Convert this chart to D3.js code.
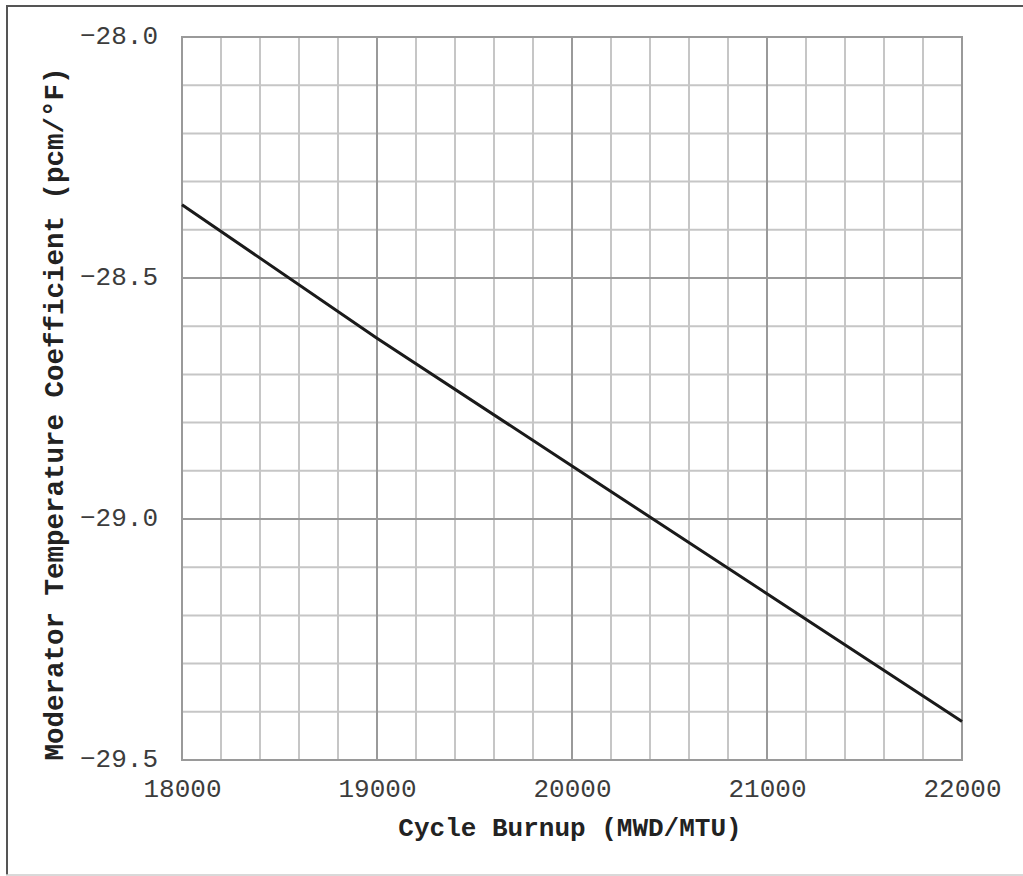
<!DOCTYPE html>
<html>
<head>
<meta charset="utf-8">
<script src="https://cdn.jsdelivr.net/npm/d3@7"></script>
<style>
  html, body { margin: 0; padding: 0; background: #fff; }
  svg { display: block; }
</style>
</head>
<body>
<svg id="chart" width="1023" height="876"></svg>
<script>
// Moderator temperature coefficient vs. cycle burnup
const burnup = [18000, 19000, 20000, 21000, 22000];          // MWD/MTU
const mtc = [-28.348, -28.625, -28.890, -29.155, -29.420];   // pcm/°F

const xTicks = [18000, 19000, 20000, 21000, 22000];
const yTicks = [-28.0, -28.5, -29.0, -29.5];
const xMinorStep = 200;
const yMinorStep = 0.1;

const W = 1023, H = 876;
const plot = { left: 182, right: 962, top: 37, bottom: 760 };

const svg = d3.select("#chart");

// page frame
svg.append("line").attr("x1", 7).attr("x2", 7).attr("y1", 6).attr("y2", 875)
  .attr("stroke", "#555").attr("stroke-width", 2);
svg.append("line").attr("x1", 6).attr("x2", W).attr("y1", 6).attr("y2", 6)
  .attr("stroke", "#555").attr("stroke-width", 2);
svg.append("line").attr("x1", 6).attr("x2", W).attr("y1", 875).attr("y2", 875)
  .attr("stroke", "#ccc").attr("stroke-width", 1.5);

const x = d3.scaleLinear().domain([18000, 22000]).range([plot.left, plot.right]);
const y = d3.scaleLinear().domain([-28.0, -29.5]).range([plot.top, plot.bottom]);

const minorX = d3.range(18000, 22000 + 1, xMinorStep);
const minorY = d3.range(0, 16).map(i => +(-28.0 - i * yMinorStep).toFixed(1));

const grid = svg.append("g");
// minor grid
grid.selectAll("line.vx").data(minorX.filter(v => v % 1000 !== 0)).join("line")
  .attr("x1", d => x(d)).attr("x2", d => x(d))
  .attr("y1", plot.top).attr("y2", plot.bottom)
  .attr("stroke", "#c6c6c6").attr("stroke-width", 2);
grid.selectAll("line.hy").data(minorY.filter(v => Math.abs((v * 10) % 5) > 0.01)).join("line")
  .attr("x1", plot.left).attr("x2", plot.right)
  .attr("y1", d => y(d)).attr("y2", d => y(d))
  .attr("stroke", "#c6c6c6").attr("stroke-width", 2);
// major grid
grid.append("g").selectAll("line").data(xTicks).join("line")
  .attr("x1", d => x(d)).attr("x2", d => x(d))
  .attr("y1", plot.top).attr("y2", plot.bottom)
  .attr("stroke", "#9a9a9a").attr("stroke-width", 2);
grid.append("g").selectAll("line").data(yTicks).join("line")
  .attr("x1", plot.left).attr("x2", plot.right)
  .attr("y1", d => y(d)).attr("y2", d => y(d))
  .attr("stroke", "#9a9a9a").attr("stroke-width", 2);

// plot border
svg.append("rect")
  .attr("x", plot.left).attr("y", plot.top)
  .attr("width", plot.right - plot.left).attr("height", plot.bottom - plot.top)
  .attr("fill", "none").attr("stroke", "#9a9a9a").attr("stroke-width", 2);

// curve
const line = d3.line().x((d, i) => x(burnup[i])).y(d => y(d));
svg.append("path").datum(mtc)
  .attr("d", line)
  .attr("fill", "none").attr("stroke", "#1a1a1a").attr("stroke-width", 3);

const tickFont = "'Liberation Mono', 'Courier New', monospace";

// x axis labels
const xAxis = d3.axisBottom(x).tickValues(xTicks).tickSize(0).tickPadding(0).tickFormat(d3.format("d"));
const gx = svg.append("g").attr("transform", `translate(0,${plot.bottom})`).call(xAxis);
gx.select(".domain").remove();
gx.selectAll("text")
  .attr("y", 37).attr("dy", 0)
  .attr("font-family", tickFont).attr("font-size", 26).attr("fill", "#3c3c3c");

// y axis labels
const yAxis = d3.axisLeft(y).tickValues(yTicks).tickSize(0).tickPadding(0).tickFormat(d3.format(".1f"));
const gy = svg.append("g").attr("transform", `translate(${plot.left},0)`).call(yAxis);
gy.select(".domain").remove();
gy.selectAll("text")
  .attr("x", -24).attr("dy", 6.5)
  .attr("font-family", tickFont).attr("font-size", 26).attr("fill", "#3c3c3c");

// axis titles
svg.append("text")
  .attr("x", (plot.left + plot.right) / 2 - 2).attr("y", 836)
  .attr("text-anchor", "middle")
  .attr("font-family", tickFont).attr("font-weight", "bold").attr("font-size", 26).attr("fill", "#222")
  .text("Cycle Burnup (MWD/MTU)");

svg.append("text")
  .attr("transform", "translate(63,414) rotate(-90)")
  .attr("text-anchor", "middle")
  .attr("font-family", tickFont).attr("font-weight", "bold").attr("font-size", 27.5).attr("fill", "#222")
  .text("Moderator Temperature Coefficient (pcm/°F)");
</script>
</body>
</html>
